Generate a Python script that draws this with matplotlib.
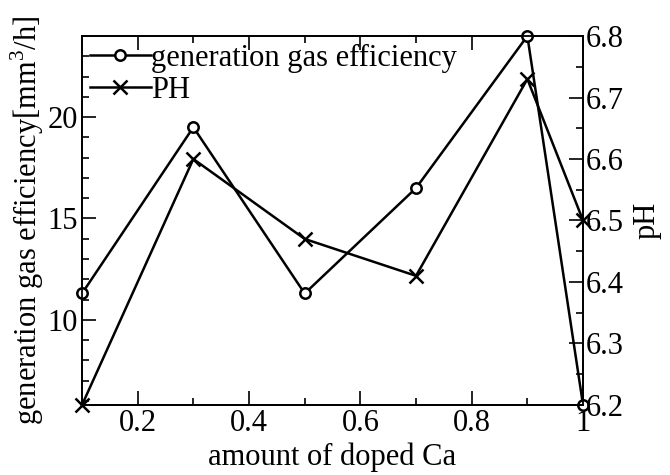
import matplotlib
matplotlib.use("Agg")
import matplotlib.pyplot as plt
from matplotlib.ticker import MultipleLocator, FormatStrFormatter

plt.rcParams['font.family'] = ['Liberation Serif', 'DejaVu Serif']
plt.rcParams['mathtext.fontset'] = 'custom'
plt.rcParams['mathtext.rm'] = 'Liberation Serif'

# data
ca_amount = [0.1, 0.3, 0.5, 0.7, 0.9, 1.0]
gas_eff = [11.3, 19.5, 11.3, 16.5, 24.0, 5.8]
ph = [6.2, 6.6, 6.47, 6.41, 6.73, 6.5]

fs = 22

fig = plt.figure(figsize=(6.7, 4.75), dpi=100)
ax = fig.add_axes([0.1224, 0.1474, 0.7478, 0.7768])
ax2 = ax.twinx()

l1, = ax.plot(ca_amount, gas_eff, color='black', lw=1.8, marker='o', ms=7.5,
              mfc='white', mew=1.8, label='generation gas efficiency', clip_on=False, zorder=5)
l2, = ax2.plot(ca_amount, ph, color='black', lw=1.8, marker='x', ms=9.5,
               mew=1.8, label='PH', clip_on=False, zorder=5)

ax.set_xlim(0.1, 1.0)
ax.set_ylim(5.8, 24)
ax2.set_ylim(6.2, 6.8)

ax.xaxis.set_major_locator(MultipleLocator(0.2))
ax.xaxis.set_minor_locator(MultipleLocator(0.1))
ax.xaxis.set_major_formatter(FormatStrFormatter('%g'))
ax.yaxis.set_major_locator(MultipleLocator(5))
ax.yaxis.set_minor_locator(MultipleLocator(1))
ax2.yaxis.set_major_locator(MultipleLocator(0.1))
ax2.yaxis.set_minor_locator(MultipleLocator(0.05))
ax2.yaxis.set_major_formatter(FormatStrFormatter('%.1f'))

ax.tick_params(which='both', direction='in', top=True, right=False, labelsize=fs,
               width=1.2, pad=3)
ax.tick_params(which='major', length=10)
ax.tick_params(which='minor', length=5)
ax2.tick_params(which='both', direction='in', labelsize=fs, width=1.2, pad=2)
ax2.tick_params(which='major', length=10)
ax2.tick_params(which='minor', length=5)

for a in (ax, ax2):
    for s in a.spines.values():
        s.set_linewidth(1.3)

ax.set_xlabel('amount of doped Ca', fontsize=fs, labelpad=3)
ax.set_ylabel('generation gas efficiency[mm$^3$/h]', fontsize=fs, labelpad=1)
ax2.set_ylabel('pH', fontsize=fs, labelpad=6)

ax2.legend(handles=[l1, l2], loc='upper left', frameon=False, fontsize=fs,
           handlelength=2.0, handletextpad=0.0, labelspacing=0.1,
           borderaxespad=0.1, borderpad=0.15)

fig.savefig('out.png', dpi=100)
